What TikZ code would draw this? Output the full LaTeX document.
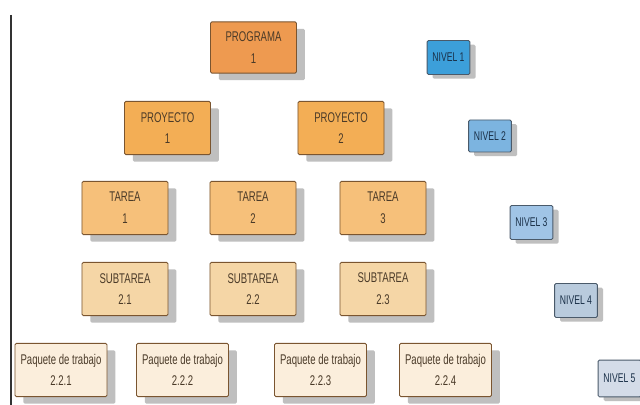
\documentclass[tikz,border=0pt]{standalone}
\usepackage{fontspec}
\setmainfont[FakeStretch=0.68]{Liberation Sans}
\usetikzlibrary{shadows}
\definecolor{progfill}{HTML}{EE9A50}
\definecolor{proyfill}{HTML}{F3AE55}
\definecolor{tarfill}{HTML}{F6C07A}
\definecolor{subfill}{HTML}{F5D6A6}
\definecolor{paqfill}{HTML}{FBEEDC}
\definecolor{boxline}{HTML}{7A5530}
\definecolor{boxtext}{HTML}{4A3A28}
\definecolor{nivline}{HTML}{4A5A6A}
\definecolor{nivtext}{HTML}{1A3048}
\definecolor{nivA}{HTML}{3C9FDA}
\definecolor{nivB}{HTML}{7CB4E0}
\definecolor{nivC}{HTML}{A0C4E6}
\definecolor{nivD}{HTML}{B9CBDD}
\definecolor{nivE}{HTML}{D4DCE8}
\begin{document}
\begin{tikzpicture}[x=0.025cm, y=-0.025cm,
	wbsbox/.style = {draw=boxline, line width=0.6pt, rounded corners=1pt, align=center,
		text=boxtext, font=\fontsize{10}{15.5}\selectfont, minimum width=2.15cm, minimum height=1.33cm,
		inner sep=1pt, drop shadow={shadow xshift=6pt, shadow yshift=-5pt, fill=black!45, opacity=.55}},
	nivbox/.style = {draw=nivline, line width=0.6pt, rounded corners=1pt, text=nivtext,
		font=\fontsize{9}{10}\selectfont, minimum width=1.07cm, minimum height=0.85cm, inner sep=1pt,
		drop shadow={shadow xshift=4pt, shadow yshift=-3pt, fill=black!45, opacity=.55}}]
			\useasboundingbox (0,0) rectangle (640,405);
			\fill[white] (0,0) rectangle (640,405);
			\draw[line width=1.5pt, black!80] (11,15) -- (11,405);
			\node[wbsbox, fill=progfill, minimum height=1.28cm] (prog) at (253.5,47.5) {PROGRAMA\\1};
			\node[wbsbox, fill=proyfill] (proy1) at (167.5,128) {PROYECTO\\1};
			\node[wbsbox, fill=proyfill] (proy2) at (341,128) {PROYECTO\\2};
			\node[wbsbox, fill=tarfill] (tar1) at (125,208) {TAREA\\1};
			\node[wbsbox, fill=tarfill] (tar2) at (253,208) {TAREA\\2};
			\node[wbsbox, fill=tarfill] (tar3) at (383,208) {TAREA\\3};
			\node[wbsbox, fill=subfill] (sub1) at (125,289) {SUBTAREA\\2.1};
			\node[wbsbox, fill=subfill] (sub2) at (253,289) {SUBTAREA\\2.2};
			\node[wbsbox, fill=subfill] (sub3) at (383,289) {SUBTAREA\\2.3};
			\node[wbsbox, fill=paqfill, minimum width=2.3cm] (paq1) at (61,370) {Paquete de trabajo\\2.2.1};
			\node[wbsbox, fill=paqfill, minimum width=2.3cm] (paq2) at (182.5,370) {Paquete de trabajo\\2.2.2};
			\node[wbsbox, fill=paqfill, minimum width=2.3cm] (paq3) at (320.5,370) {Paquete de trabajo\\2.2.3};
			\node[wbsbox, fill=paqfill, minimum width=2.3cm] (paq4) at (445.5,370) {Paquete de trabajo\\2.2.4};
			\node[nivbox, fill=nivA] (niv1) at (448.5,57.5) {NIVEL 1};
			\node[nivbox, fill=nivB, minimum height=0.8cm] (niv2) at (490,136) {NIVEL 2};
			\node[nivbox, fill=nivC] (niv3) at (531.5,222.5) {NIVEL 3};
			\node[nivbox, fill=nivD] (niv4) at (576,300.5) {NIVEL 4};
			\node[nivbox, fill=nivE, minimum height=0.92cm] (niv5) at (619.5,378.5) {NIVEL 5};
			\end{tikzpicture}
\end{document}
